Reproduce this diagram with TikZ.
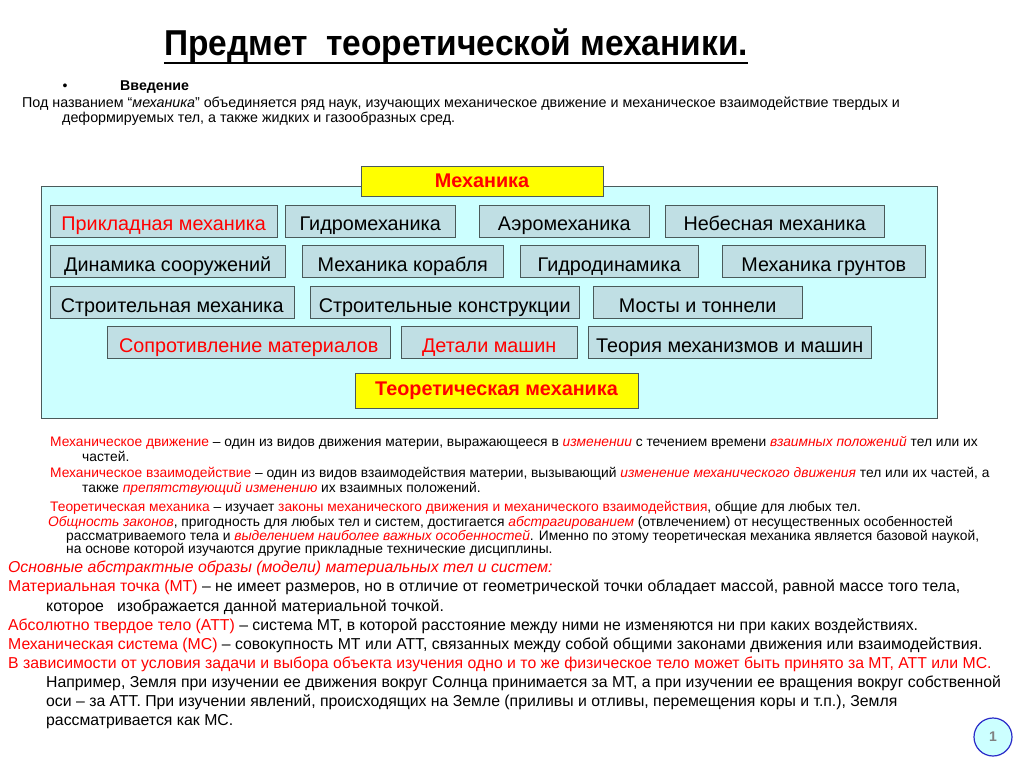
\documentclass[tikz,border=0pt]{standalone}
\usepackage{fontspec}
\setmainfont{Liberation Sans}
\newfontfamily\titlefont[FakeStretch=0.93]{Liberation Sans}
\usetikzlibrary{positioning}
\definecolor{panel}{HTML}{CCFFFF}
\definecolor{itemfill}{HTML}{C0DFE4}
\definecolor{boxline}{HTML}{4A5A5A}
\definecolor{hlyellow}{HTML}{FFFF00}
\definecolor{hlred}{HTML}{FF0000}
\definecolor{numblue}{HTML}{2A2AC8}
\newcommand{\redt}[1]{\textcolor{hlred}{#1}}
\newcommand{\redi}[1]{\textcolor{hlred}{\itshape #1}}
\begin{document}
\begin{tikzpicture}[x=1pt,y=-1pt,
 item/.style={draw=boxline,fill=itemfill,inner sep=0pt,minimum height=32pt,text height=20pt,text depth=0pt,font=\fontsize{19.8}{22}\selectfont,anchor=west},
 head/.style={draw=boxline,fill=hlyellow,inner sep=0pt,text=hlred,font=\fontsize{19.8}{22}\selectfont\bfseries},
 txt/.style={anchor=base west,inner sep=0pt,font=\fontsize{13.8}{16}\selectfont},
 big/.style={anchor=base west,inner sep=0pt,font=\fontsize{15.8}{18}\selectfont}]
\useasboundingbox (0,0) rectangle (1024,767);
\fill[white] (0,0) rectangle (1024,767);

\node[anchor=base,inner sep=0pt,font=\titlefont\fontsize{36}{40}\selectfont\bfseries] (title) at (456,56) {Предмет~~теоретической механики.};
\draw[line width=2.8pt] ([yshift=-7pt]title.base west) -- ([yshift=-7pt]title.base east);

\node[anchor=base,inner sep=0pt,font=\fontsize{14}{16}\selectfont] (bul) at (65,91) {•};
\node[anchor=base west,inner sep=0pt,font=\fontsize{14.2}{16}\selectfont\bfseries] (intro) at (120,91) {Введение};
\node[txt,font=\fontsize{14.3}{16}\selectfont] (i1) at (22,108) {Под названием “\textit{механика}” объединяется ряд наук, изучающих механическое движение и механическое взаимодействие твердых и};
\node[txt,font=\fontsize{14.3}{16}\selectfont] (i2) at (62,123) {деформируемых тел, а также жидких и газообразных сред.};

\node[draw=boxline,fill=panel,minimum width=896pt,minimum height=232pt,inner sep=0pt,anchor=north west] (panel) at (41,186) {};
\node[head,minimum width=242pt,minimum height=30pt] (mech) at (482,181) {Механика};
\foreach \n/\x/\w/\y/\t in {
  pm/50/227/221/{\redt{Прикладная механика}}, gm/285/170/221/Гидромеханика,
  am/479/170/221/Аэромеханика, nm/665/219/221/Небесная механика,
  ds/50/235/261.5/Динамика сооружений, mk/302/201/261.5/Механика корабля,
  gd/520/178/261.5/Гидродинамика, mg/722/203/261.5/Механика грунтов,
  sm/50/244/302/Строительная механика, sk/310/269/302/Строительные конструкции,
  mt/593/209/302.5/Мосты и тоннели,
  sopr/107/283/342.5/{\redt{Сопротивление материалов}}, dm/401/176/342.5/{\redt{Детали машин}},
  tmm/588/283/342.5/Теория механизмов и машин}
  \node[item,minimum width=\w pt] (\n) at (\x,\y) {\t};
\node[head,minimum width=283pt,minimum height=35pt] (theo) at (496.5,390.5) {Теоретическая механика};

\node[txt] (a1) at (50,446) {\redt{Механическое движение} – один из видов движения материи, выражающееся в \redi{изменении} с течением времени \redi{взаимных положений} тел или их};
\node[txt] (a2) at (82,461) {частей.};
\node[txt] (b1) at (50,477) {\redt{Механическое взаимодействие} – один из видов взаимодействия материи, вызывающий \redi{изменение механического движения} тел или их частей, а};
\node[txt] (b2) at (82,492) {также \redi{препятствующий изменению} их взаимных положений.};
\node[txt] (c1) at (50,511) {\redt{Теоретическая механика} – изучает \redt{законы механического движения и механического взаимодействия}, общие для любых тел.};
\node[txt] (d1) at (48,526) {\redi{Общность законов}, пригодность для любых тел и систем, достигается \redi{абстрагированием} (отвлечением) от несущественных особенностей};
\node[txt] (d2) at (66,540) {рассматриваемого тела и \redi{выделением наиболее важных особенностей}. Именно по этому теоретическая механика является базовой наукой,};
\node[txt] (d3) at (66,553) {на основе которой изучаются другие прикладные технические дисциплины.};

\node[big] (e1) at (8,572) {\redi{Основные абстрактные образы (модели) материальных тел и систем:}};
\node[big] (e2) at (8,591) {\redt{Материальная точка (МТ)} – не имеет размеров, но в отличие от геометрической точки обладает массой, равной массе того тела,};
\node[big] (e3) at (46,611) {которое~~~изображается данной материальной точкой.};
\node[big] (e4) at (8,630) {\redt{Абсолютно твердое тело (АТТ)} – система МТ, в которой расстояние между ними не изменяются ни при каких воздействиях.};
\node[big] (e5) at (8,649) {\redt{Механическая система (МС)} – совокупность МТ или АТТ, связанных между собой общими законами движения или взаимодействия.};
\node[big] (e6) at (8,668) {\redt{В зависимости от условия задачи и выбора объекта изучения одно и то же физическое тело может быть принято за МТ, АТТ или МС.}};
\node[big] (e7) at (46,687) {Например, Земля при изучении ее движения вокруг Солнца принимается за МТ, а при изучении ее вращения вокруг собственной};
\node[big] (e8) at (46,706) {оси – за АТТ. При изучении явлений, происходящих на Земле (приливы и отливы, перемещения коры и т.п.), Земля};
\node[big] (e9) at (46,725) {рассматривается как МС.};

\node[circle,draw=numblue,fill=panel,minimum size=38pt,inner sep=0pt,line width=1.2pt,text=gray,font=\fontsize{14}{16}\selectfont\bfseries] (num) at (993,737) {1};
\end{tikzpicture}
\end{document}
